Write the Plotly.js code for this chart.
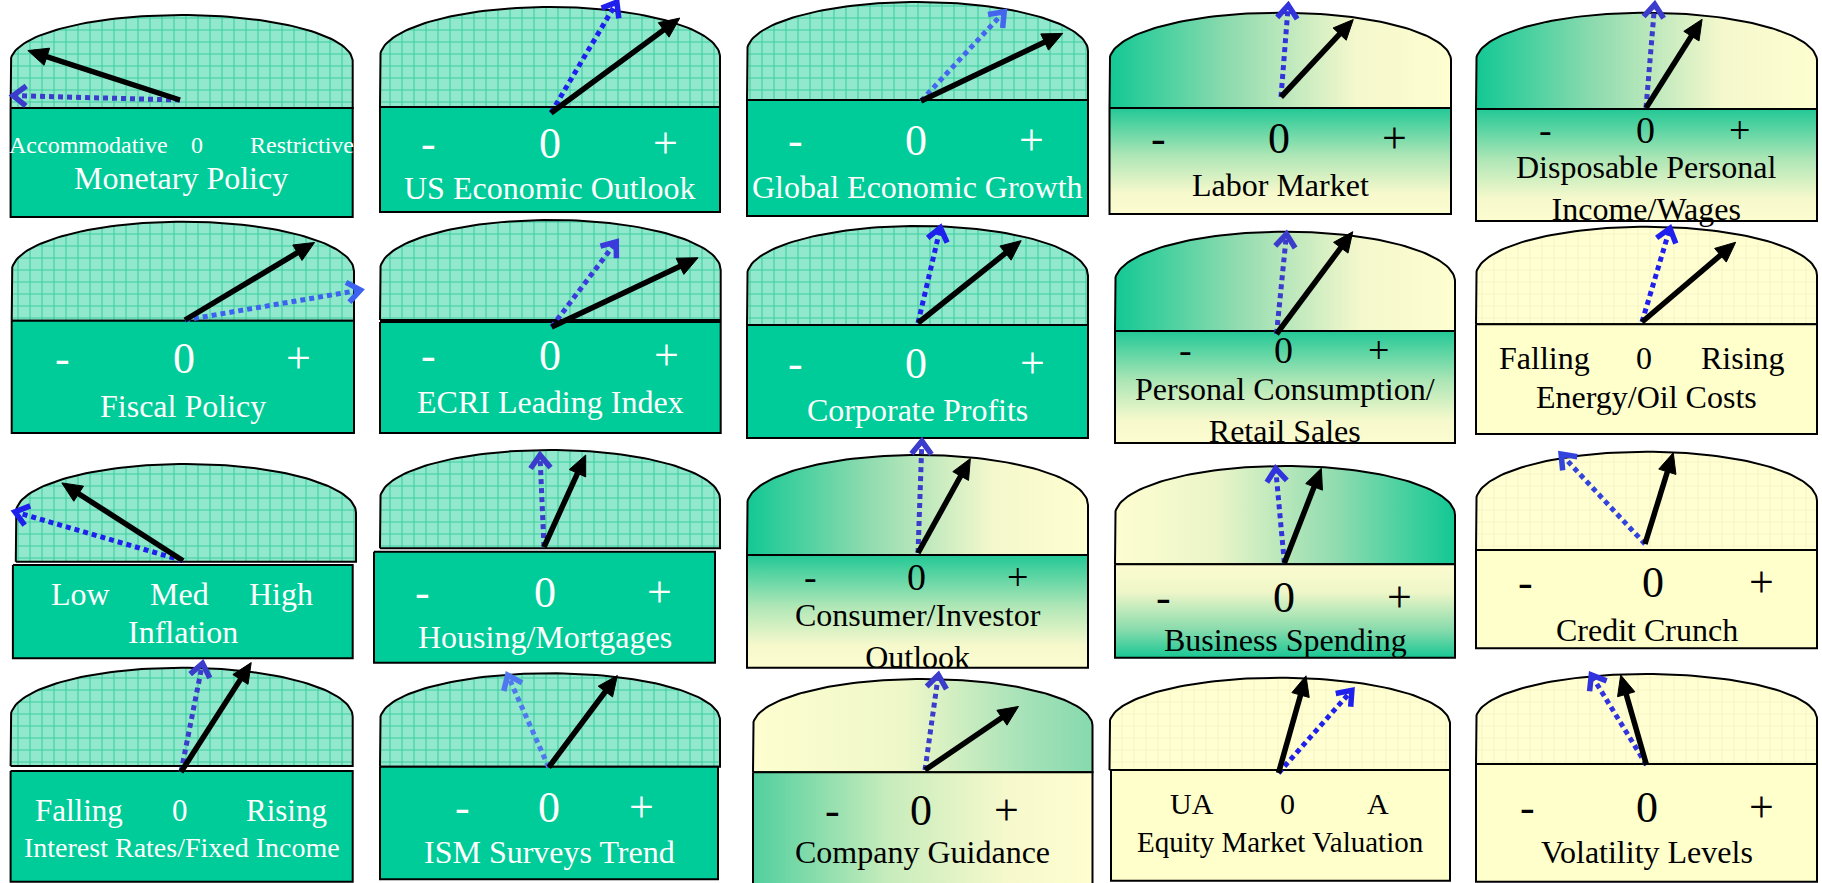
<!DOCTYPE html>
<html><head><meta charset="utf-8">
<script src="https://cdn.plot.ly/plotly-3.0.1.min.js"></script>
<style>html,body{margin:0;padding:0;background:#fff}#chart{width:1822px;height:883px}</style>
</head><body><div id="chart"></div>
<script>
// ---------------- DATA ----------------
const titles = ['Monetary Policy','US Economic Outlook','Global Economic Growth','Labor Market','Disposable Personal<br>Income/Wages',
  'Fiscal Policy','ECRI Leading Index','Corporate Profits','Personal Consumption/<br>Retail Sales','Energy/Oil Costs',
  'Inflation','Housing/Mortgages','Consumer/Investor<br>Outlook','Business Spending','Credit Crunch',
  'Interest Rates/Fixed Income','ISM Surveys Trend','Company Guidance','Equity Market Valuation','Volatility Levels'];
const scaleLeft  = ['Accommodative','-','-','-','-','-','-','-','-','Falling','Low','-','-','-','-','Falling','-','-','UA','-'];
const scaleMid   = ['0','0','0','0','0','0','0','0','0','0','Med','0','0','0','0','0','0','0','0','0'];
const scaleRight = ['Restrictive','+','+','+','+','+','+','+','+','Rising','High','+','+','+','+','Rising','+','+','A','+'];
// needle angles in degrees (0 = far right / positive, 90 = neutral, 180 = far left / negative)
const currentAngle = [162, 36.4, 25.5, 47, 57.7, 30.9, 25.3, 38.6, 53.3, 40.4, 147.3, 65.6, 61, 68.7, 72.8, 57.3, 53.2, 34.2, 74.2, 106];
const priorAngle   = [178.5, 59.3, 47, 85.5, 85.2, 9.7, 52.8, 76.8, 84.3, 73.4, 163.8, 92.5, 88, 95.3, 133, 78.8, 114, 82, 48.4, 121.5];

// ---------------- LAYOUT GEOMETRY (positions / sizes / styles) ----------------
// l,r,top,base: dome; rl,rr,rt,rb: box; ox,oy: needle pivot; lc,lp: needle lengths
// lx: label x's, ly: label y, lf: label font, ty: title y, tf: title font
const P = [
 {l:10.6,r:352.7,top:15,base:108,rt:108,rb:217,ox:180,oy:100,lc:160,lp:167,lx:[88.5,197,301.7],ly:145,lf:24,tx:181,ty:178,tf:32,st:'grid',bc:'#3b3bcc'},
 {l:380,r:720,top:7,base:107,rt:107,rb:212,ox:551,oy:113,lc:160,lp:129,lx:[428,550,665],ly:143,lf:44,ty:188,tf:32,st:'grid',bc:'#2020ee'},
 {l:747,r:1088,top:2,base:100,rt:100,rb:216,ox:921,oy:101,lc:157,lp:122,lx:[795,916,1031],ly:140,lf:44,ty:187,tf:32,st:'grid',bc:'#4466ee'},
 {l:1109.5,r:1451,top:12.7,base:108,rt:108,rb:214,ox:1281,oy:97,lc:106,lp:92,lx:[1158,1279,1394],ly:138,lf:44,ty:185,tf:32,st:'fadeR',bc:'#3333dd'},
 {l:1476,r:1817,top:12.7,base:109,rt:109,rb:221,ox:1646,oy:108,lc:105,lp:104,lx:[1545,1645,1739],ly:130,lf:38,ty:188,tf:32,st:'fadeR',bc:'#3b3bcc'},
 {l:11.7,r:354,top:221.7,base:320.7,rt:320.7,rb:433,ox:185,oy:320,lc:151,lp:178,lx:[62,184,298],ly:358,lf:44,ty:406,tf:32,st:'grid',bc:'#3d62f0'},
 {l:380,r:720.7,top:220,base:320,rt:322,rb:433,ox:551.6,oy:327,lc:162,lp:107,lx:[428,550,666],ly:355,lf:44,ty:402,tf:32,st:'grid',bc:'#3a3add'},
 {l:747,r:1088,top:226,base:325,rt:325,rb:438,ox:918,oy:323,lc:132,lp:98,lx:[795,916,1032],ly:363,lf:44,ty:410,tf:32,st:'grid',bc:'#2020ee'},
 {l:1115,r:1455,top:231.7,base:331,rt:331,rb:443,ox:1276.5,oy:334,lc:127.6,lp:100.5,lx:[1185,1283,1378],ly:350,lf:38,ty:410,tf:32,st:'fadeR',bc:'#3b3bcc'},
 {l:1476,r:1817,top:226.7,base:324.3,rt:324.3,rb:434,ox:1642,oy:322,lc:123,lp:97.8,lx:[1544,1644,1743],ly:358,lf:32,ty:397,tf:32,st:'cream',bc:'#2020ee'},
 {l:15.8,r:356,top:464,base:561.7,rl:12.9,rr:352.7,rt:565,rb:658.3,ox:183,oy:560.7,lc:144,lp:175,lx:[80,179,280.5],ly:594,lf:32,ty:632,tf:32,st:'grid',bc:'#2020ee'},
 {l:380,r:720,top:450,base:548.3,rl:374,rr:715,rt:551.7,rb:662.7,ox:544,oy:547,lc:101,lp:92,lx:[422.5,544.6,659],ly:592,lf:44,ty:637,tf:32,st:'grid',bc:'#3b3bcc'},
 {l:747,r:1088,top:455,base:555,rt:555,rb:667.7,ox:918,oy:553,lc:108,lp:112,lx:[810,916,1017],ly:577,lf:38,ty:636,tf:32,st:'fadeR',bc:'#3b3bcc'},
 {l:1115,r:1455,top:466,base:564.3,rt:564.3,rb:657.7,ox:1284.4,oy:563,lc:101.7,lp:95,lx:[1163,1284,1399],ly:597,lf:44,ty:640,tf:32,st:'fadeL',bc:'#3333dd'},
 {l:1476,r:1817,top:451.7,base:550,rt:550,rb:648.3,ox:1645,oy:544,lc:95.6,lp:123,lx:[1525,1653,1761.5],ly:582,lf:44,ty:630,tf:32,st:'cream',bc:'#3344dd'},
 {l:10.6,r:352.7,top:667.7,base:766,rt:771,rb:881.7,ox:181,oy:772,lc:130,lp:110.8,lx:[79,180,286],ly:810,lf:31,ty:847,tf:28,st:'grid',bc:'#3b3bcc'},
 {l:380,r:720,top:673.3,base:766.7,rr:718,rt:766.7,rb:879.3,ox:548.7,oy:767.3,lc:114.6,lp:101,lx:[462,549,641],ly:807,lf:44,ty:852,tf:32,st:'grid',bc:'#4f78ee'},
 {l:753,r:1092.5,top:679,base:772.3,rt:772.3,rb:895,ox:925,oy:770,lc:113,lp:96,lx:[832,921,1006],ly:810,lf:44,ty:852,tf:32,st:'diag',bc:'#3b3bcc'},
 {l:1109.5,r:1450,top:677.7,base:770,rl:1111,rt:770,rb:880.7,ox:1278.5,oy:773,lc:101,lp:110.5,lx:[1192,1287,1378],ly:803,lf:30,ty:842,tf:29,st:'cream',bc:'#2020ee'},
 {l:1476,r:1817,top:674,base:764,rt:764,rb:881.7,ox:1646.5,oy:765,lc:93.6,lp:105.6,lx:[1527,1646.5,1761.5],ly:807,lf:44,ty:852,tf:32,st:'cream',bc:'#3333dd'}
];

const TEAL = '#00cc99', CREAM = '#ffffcc';
const FONT = 'Liberation Serif, Times New Roman, serif';
const traces = [], annotations = [];

function domeXY(p){
  const H = p.base - p.top, side = H*0.5, b = H - side, a = (p.r - p.l)/2, cx = (p.l + p.r)/2, y0 = p.base - side;
  const xs = [p.l], ys = [p.base];
  for (let i = 0; i <= 80; i++) { const t = Math.PI - Math.PI*i/80; xs.push(cx + a*Math.cos(t)); ys.push(y0 - b*Math.sin(t)); }
  xs.push(p.r, p.l); ys.push(p.base, p.base);
  return {xs, ys};
}
function fillTrace(xs, ys, extra){
  return Object.assign({type:'scatter', mode:'lines', x:xs, y:ys, fill:'toself', hoverinfo:'skip',
    line:{color:'#000', width:2}}, extra);
}
const hz = (cs) => ({type:'horizontal', colorscale:cs});
// vertical colorscales are given top -> bottom; flipped here because the y axis is reversed
const vt = (cs) => ({type:'vertical', colorscale:cs.map(([s, c]) => [1 - s, c]).reverse()});

P.forEach((p, i) => {
  const d = domeXY(p);
  const rl = p.rl ?? p.l, rr = p.rr ?? p.r;
  const bx = [rl, rr, rr, rl, rl], by = [p.rt, p.rt, p.rb, p.rb, p.rt];
  let domeExtra, boxExtra, txtColor = '#000';
  if (p.st === 'grid') {
    domeExtra = {fillcolor:'#92e8cc', fillpattern:{shape:'+', bgcolor:'#92e8cc', fgcolor:'#3ccfa0', size:12, solidity:0.17}};
    boxExtra = {fillcolor:TEAL};
    txtColor = '#fff';
  } else if (p.st === 'cream') {
    domeExtra = {fillcolor:'#ffffd2', fillpattern:{shape:'+', bgcolor:'#ffffd2', fgcolor:'#f5f5c8', size:12, solidity:0.17}};
    boxExtra = {fillcolor:CREAM};
  } else if (p.st === 'fadeR') {
    domeExtra = {fillcolor:TEAL, fillgradient:hz([[0,'#12c894'],[0.35,'#8edbaf'],[0.72,'#f4f8cc'],[1,'#fefed0']])};
    boxExtra = {fillcolor:TEAL, fillgradient:vt([[0,'#22c896'],[0.45,'#aee6b6'],[0.8,'#f6f9cc'],[1,'#fcfccf']])};
  } else if (p.st === 'fadeL') {
    domeExtra = {fillcolor:TEAL, fillgradient:hz([[0,'#fefed0'],[0.3,'#eaf5c8'],[0.65,'#90dcb0'],[1,'#12c894']])};
    boxExtra = {fillcolor:TEAL, fillgradient:vt([[0,'#fcfccf'],[0.3,'#eef6c8'],[0.7,'#88dbac'],[1,'#18c794']])};
  } else {
    domeExtra = {fillcolor:CREAM, fillgradient:hz([[0,'#fefed0'],[0.45,'#eef7c8'],[0.8,'#a6e2b8'],[1,'#86d9ae']])};
    boxExtra = {fillcolor:CREAM, fillgradient:hz([[0,'#52cf9e'],[0.4,'#c8ecbc'],[0.75,'#f6f9cc'],[1,'#fefed0']])};
  }
  traces.push(fillTrace(d.xs, d.ys, domeExtra));
  traces.push(fillTrace(bx, by, boxExtra));

  // scale labels and title
  [scaleLeft[i], scaleMid[i], scaleRight[i]].forEach((t, k) => {
    annotations.push({x:p.lx[k], y:p.ly, xref:'x', yref:'y', text:t, showarrow:false, xanchor:'center', yanchor:'middle',
      font:{family:FONT, size:p.lf, color:txtColor}});
  });
  annotations.push({x:p.tx ?? (rl+rr)/2, y:p.ty, xref:'x', yref:'y', text:titles[i], showarrow:false, xanchor:'center', yanchor:'middle',
    font:{family:FONT, size:p.tf, color:txtColor}});
});

// needles
function dir(a){ const r = a*Math.PI/180; return [Math.cos(r), -Math.sin(r)]; }
P.forEach((p, i) => {
  // prior (blue dotted, open chevron head)
  let [dx, dy] = dir(priorAngle[i]);
  let tx = p.ox + p.lp*dx, ty = p.oy + p.lp*dy;
  const px = -dy, py = dx;
  traces.push({type:'scatter', mode:'lines', hoverinfo:'skip', x:[p.ox, tx - 3*dx], y:[p.oy, ty - 3*dy],
    line:{color:p.bc, width:5, dash:'5px,4px'}});
  traces.push({type:'scatter', mode:'lines', hoverinfo:'skip',
    x:[tx - 13*dx + 10*px, tx, tx - 13*dx - 10*px], y:[ty - 13*dy + 10*py, ty, ty - 13*dy - 10*py],
    line:{color:p.bc, width:5.5}});
  // current (solid black, filled head)
  [dx, dy] = dir(currentAngle[i]);
  tx = p.ox + p.lc*dx; ty = p.oy + p.lc*dy;
  const qx = -dy, qy = dx;
  traces.push({type:'scatter', mode:'lines', hoverinfo:'skip', x:[p.ox, tx - 14*dx], y:[p.oy, ty - 14*dy],
    line:{color:'#000', width:5.5}});
  traces.push({type:'scatter', mode:'lines', hoverinfo:'skip', fill:'toself', fillcolor:'#000',
    x:[tx, tx - 20*dx + 9*qx, tx - 20*dx - 9*qx, tx], y:[ty, ty - 20*dy + 9*qy, ty - 20*dy - 9*qy, ty],
    line:{color:'#000', width:1}});
});

const layout = {
  width:1822, height:883, margin:{l:0, r:0, t:0, b:0}, showlegend:false,
  paper_bgcolor:'#fff', plot_bgcolor:'#fff',
  xaxis:{range:[0,1822], visible:false, fixedrange:true},
  yaxis:{range:[883,0], visible:false, fixedrange:true},
  annotations
};
Plotly.newPlot('chart', traces, layout, {staticPlot:true, displayModeBar:false});
</script></body></html>
